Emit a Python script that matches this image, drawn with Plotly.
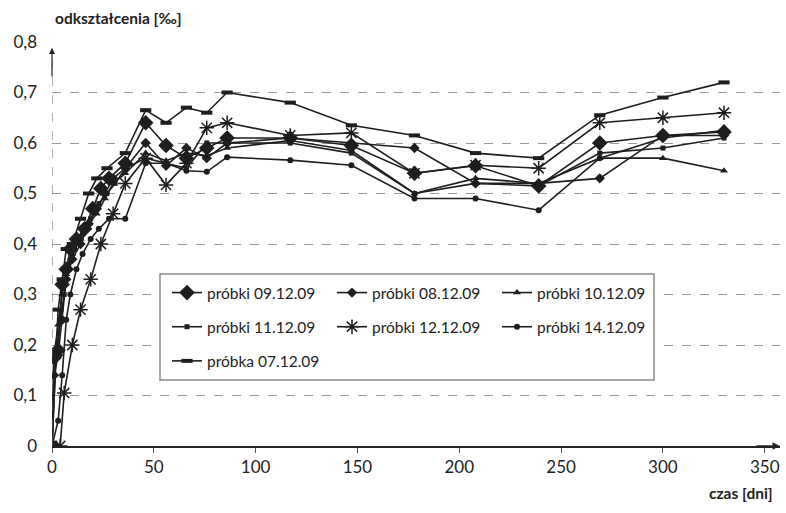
import plotly.graph_objects as go

# ---- data ----
x_0912 = [0, 1, 3, 5, 7, 9, 12, 16, 20, 24, 28, 36, 46, 56, 66, 76, 86, 117, 147, 178, 208, 239, 269, 300, 330]
y_0912 = [0, 0.175, 0.19, 0.32, 0.35, 0.39, 0.41, 0.43, 0.47, 0.51, 0.53, 0.56, 0.64, 0.595, 0.57, 0.59, 0.61, 0.61, 0.595, 0.54, 0.555, 0.515, 0.60, 0.615, 0.622]

x_0812 = [0, 1, 3, 5, 7, 10, 14, 18, 22, 26, 30, 36, 46, 56, 66, 76, 86, 117, 147, 178, 208, 239, 269, 300, 330]
y_0812 = [0, 0.14, 0.18, 0.25, 0.33, 0.37, 0.40, 0.44, 0.47, 0.50, 0.53, 0.55, 0.60, 0.555, 0.59, 0.57, 0.60, 0.61, 0.60, 0.59, 0.52, 0.52, 0.53, 0.615, 0.615]

x_1012 = [0, 1, 3, 5, 7, 10, 14, 18, 22, 26, 30, 36, 46, 56, 66, 76, 86, 117, 147, 178, 208, 239, 269, 300, 330]
y_1012 = [0, 0.18, 0.24, 0.30, 0.34, 0.38, 0.41, 0.44, 0.46, 0.49, 0.52, 0.54, 0.58, 0.565, 0.58, 0.575, 0.59, 0.605, 0.585, 0.50, 0.53, 0.52, 0.57, 0.57, 0.545]

x_1112 = [0, 2, 4, 6, 8, 11, 15, 19, 23, 27, 31, 36, 46, 56, 66, 76, 86, 117, 147, 178, 208, 239, 269, 300, 330]
y_1112 = [0, 0.18, 0.25, 0.30, 0.36, 0.39, 0.42, 0.45, 0.48, 0.50, 0.52, 0.55, 0.57, 0.56, 0.55, 0.60, 0.60, 0.60, 0.58, 0.50, 0.52, 0.515, 0.58, 0.59, 0.61]

x_1212 = [0, 4, 6, 10, 14, 19, 24, 30, 36, 46, 56, 66, 76, 86, 117, 147, 178, 208, 239, 269, 300, 330]
y_1212 = [0, 0, 0.105, 0.2, 0.27, 0.33, 0.40, 0.46, 0.52, 0.57, 0.517, 0.56, 0.63, 0.64, 0.615, 0.62, 0.54, 0.556, 0.55, 0.64, 0.65, 0.66]

x_1412 = [0, 3, 5, 7, 9, 12, 15, 19, 23, 28, 36, 46, 56, 66, 76, 86, 117, 147, 178, 208, 239, 269, 300, 330]
y_1412 = [0, 0.05, 0.14, 0.25, 0.30, 0.35, 0.38, 0.41, 0.43, 0.45, 0.45, 0.56, 0.56, 0.545, 0.543, 0.572, 0.566, 0.556, 0.49, 0.49, 0.467, 0.57, 0.61, 0.625]

x_0712 = [0, 3, 5, 7, 10, 14, 18, 22, 27, 36, 46, 56, 66, 76, 86, 117, 147, 178, 208, 239, 269, 300, 330]
y_0712 = [0, 0.27, 0.33, 0.39, 0.40, 0.45, 0.50, 0.53, 0.55, 0.58, 0.665, 0.64, 0.67, 0.66, 0.70, 0.68, 0.635, 0.615, 0.58, 0.57, 0.655, 0.69, 0.72]

x_ticks = [0, 50, 100, 150, 200, 250, 300, 350]
y_ticks = [0, 0.1, 0.2, 0.3, 0.4, 0.5, 0.6, 0.7, 0.8]
y_tick_labels = ["0", "0,1", "0,2", "0,3", "0,4", "0,5", "0,6", "0,7", "0,8"]

LINE = "#1e1e1e"
FONT = "Lato"

# (name, x, y, marker, legend column)
series = [
    ("próbki 09.12.09", x_0912, y_0912, dict(symbol="diamond", size=12), "legend"),
    ("próbki 08.12.09", x_0812, y_0812, dict(symbol="diamond", size=8), "legend2"),
    ("próbki 10.12.09", x_1012, y_1012, dict(symbol="triangle-up", size=7), "legend3"),
    ("próbki 11.12.09", x_1112, y_1112, dict(symbol="square", size=5), "legend"),
    ("próbki 12.12.09", x_1212, y_1212, dict(symbol="asterisk-open", size=12, line=dict(width=1.5, color=LINE)), "legend2"),
    ("próbki 14.12.09", x_1412, y_1412, dict(symbol="circle", size=6), "legend3"),
    ("próbka 07.12.09", x_0712, y_0712, dict(symbol="line-ew-open", size=8, line=dict(width=4, color=LINE)), "legend"),
]

fig = go.Figure()
for i, (name, xs, ys, mk, lg) in enumerate(series):
    mk = dict(mk)
    mk.setdefault("color", LINE)
    fig.add_trace(go.Scatter(x=xs, y=ys, name=name, mode="lines+markers",
                             legend=lg, legendgroup="g%d" % i,
                             line=dict(color=LINE, width=1.6), marker=mk))

# plot area in pixels: x 52..780, y 42..446
def px_x(p):
    return (p - 52) / 728.0

def px_y(p):
    return (446 - p) / 404.0

leg_common = dict(orientation="v", yanchor="top", xanchor="left",
                  bgcolor="rgba(0,0,0,0)", borderwidth=0, tracegroupgap=11,
                  font=dict(family=FONT, size=15.5, color="#222"))

fig.update_layout(
    width=786, height=513,
    margin=dict(l=52, r=6, t=42, b=67),
    plot_bgcolor="white", paper_bgcolor="white",
    font=dict(family=FONT, size=17, color="#222"),
    showlegend=True,
    legend=dict(x=px_x(167), y=px_y(276), **leg_common),
    legend2=dict(x=px_x(332), y=px_y(276), **leg_common),
    legend3=dict(x=px_x(497), y=px_y(276), **leg_common),
    xaxis=dict(
        range=[0, 357.5], tickvals=x_ticks, ticks="outside", ticklen=5,
        tickcolor="#555", showgrid=False, zeroline=False, automargin=False,
        showline=True, linecolor="#222", linewidth=1.5,
        tickfont=dict(size=17, color="#222"),
    ),
    yaxis=dict(
        range=[0, 0.8], tickvals=y_ticks, ticktext=y_tick_labels, ticks="",
        showgrid=True, gridcolor="#9a9a9a", griddash="dash", gridwidth=1,
        zeroline=False, showline=False, automargin=False,
        ticklabelstandoff=14,
        tickfont=dict(size=17, color="#222"),
    ),
)

# legend box
fig.add_shape(type="rect", xref="paper", yref="paper", layer="above",
              x0=px_x(160), x1=px_x(654), y0=px_y(380), y1=px_y(274),
              fillcolor="white", line=dict(color="#8a8a8a", width=1.5))

# dashed vertical y-axis line
fig.add_shape(type="line", xref="x", yref="paper", x0=0, x1=0, y0=0, y1=0.985,
              line=dict(color="#666", width=1, dash="dash"))

# arrows
fig.add_annotation(xref="x", yref="paper", x=0, y=0.985, ax=0, ay=30,
                   showarrow=True, arrowhead=2, arrowsize=1, arrowwidth=1.2,
                   arrowcolor="#222", text="")
fig.add_annotation(xref="paper", yref="paper", x=1.0, y=0, ax=-25, ay=0,
                   showarrow=True, arrowhead=2, arrowsize=1, arrowwidth=1.5,
                   arrowcolor="#222", text="")

# axis titles
fig.add_annotation(xref="paper", yref="paper", x=px_x(118), y=px_y(18),
                   xanchor="center", yanchor="middle", showarrow=False,
                   text="odkształcenia [‰]",
                   font=dict(family=FONT, size=15.5, color="#222", weight="bold"))
fig.add_annotation(xref="paper", yref="paper", x=px_x(741), y=px_y(493),
                   xanchor="center", yanchor="middle", showarrow=False,
                   text="czas [dni]",
                   font=dict(family=FONT, size=15.5, color="#222", weight="bold"))

fig.write_html("out.html", config={"displayModeBar": False},
               post_script="document.body.style.margin='0';")
